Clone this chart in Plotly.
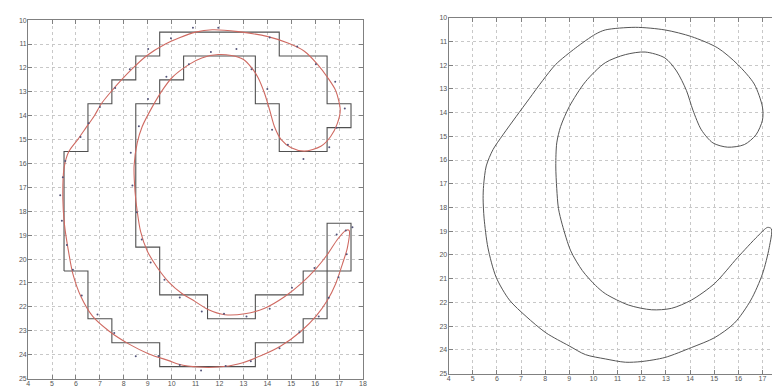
import plotly.graph_objects as go

# ---- pixel staircase outline (C shape) ----
grid_x = [5.5, 5.5, 6.5, 6.5, 7.5, 7.5, 8.5, 8.5, 9.5, 9.5, 14.5, 14.5, 16.5, 16.5, 17.5, 17.5,
          16.5, 16.5, 14.5, 14.5, 13.5, 13.5, 10.5, 10.5, 9.5, 9.5, 8.5, 8.5, 9.5, 9.5, 11.5, 11.5,
          13.5, 13.5, 15.5, 15.5, 17.5, 17.5, 16.5, 16.5, 15.5, 15.5, 13.5, 13.5, 9.5, 9.5, 7.5, 7.5,
          6.5, 6.5, 5.5]
grid_y = [20.5, 15.5, 15.5, 13.5, 13.5, 12.5, 12.5, 11.5, 11.5, 10.5, 10.5, 11.5, 11.5, 13.5, 13.5, 14.5,
          14.5, 15.5, 15.5, 13.5, 13.5, 11.5, 11.5, 12.5, 12.5, 13.5, 13.5, 19.5, 19.5, 21.5, 21.5, 22.5,
          22.5, 21.5, 21.5, 20.5, 20.5, 18.5, 18.5, 22.5, 22.5, 23.5, 23.5, 24.5, 24.5, 23.5, 23.5, 22.5,
          22.5, 20.5, 20.5]

# ---- fitted (red) contour, left panel ----
fit_x = [11.7, 12.78, 14.03, 14.86, 15.55, 16.1, 16.52, 16.86, 17.05, 16.93, 16.65, 16.24, 15.55, 15.0,
         14.58, 14.3, 14.1, 13.89, 13.61, 13.34, 12.99, 12.5, 11.95, 11.26, 10.75, 10.02, 9.6, 9.19, 8.77,
         8.56, 8.43, 8.47, 8.56, 8.7, 8.98, 9.39, 9.88, 10.43, 10.99, 11.5, 12.23, 13.06, 13.89, 14.72,
         15.41, 16.03, 16.52, 16.93, 17.28, 17.42, 17.35, 17.14, 16.86, 16.52, 16.03, 15.41, 14.58, 13.75,
         12.78, 11.95, 11.12, 10.3, 9.88, 9.05, 8.22, 7.39, 6.7, 6.21, 5.87, 5.66, 5.52, 5.45, 5.5, 5.7,
         6.07, 6.42, 6.77, 7.06, 7.46, 7.9, 8.39, 8.94, 9.74, 10.3, 11.0, 11.7]
fit_y = [10.40, 10.48, 10.69, 10.96, 11.30, 11.85, 12.4, 12.95, 13.77, 14.32, 14.87, 15.28, 15.48, 15.34,
         15.0, 14.46, 13.77, 13.08, 12.4, 11.99, 11.64, 11.48, 11.44, 11.58, 11.84, 12.4, 12.95, 13.63, 14.45,
         15.14, 16.1, 17.19, 18.0, 18.84, 19.66, 20.34, 20.96, 21.44, 21.78, 22.1, 22.33, 22.29, 22.06, 21.58,
         21.03, 20.41, 19.8, 19.18, 18.8, 18.8, 19.52, 20.21, 21.03, 21.71, 22.4, 23.02, 23.63, 24.04,
         24.39, 24.52, 24.52, 24.4, 24.25, 23.97, 23.56, 23.02, 22.4, 21.58, 20.62, 19.52, 18.57, 17.47, 16.2, 15.5,
         15.0, 14.5, 14.0, 13.5, 13.0, 12.5, 12.0, 11.5, 11.0, 10.75, 10.5, 10.40]

# ---- sample points, left panel ----
pts_x = [10.89, 9.97, 9.02, 8.25, 7.64, 7.0, 6.53, 6.19, 5.55, 5.45, 5.34, 10.72, 9.78, 9.01, 8.63, 8.29,
         8.36, 11.95, 14.1, 15.25, 16.03, 16.84, 17.24, 16.9, 16.59, 15.51, 14.86, 14.2, 14.0, 13.34, 12.71,
         11.64, 5.41, 5.62, 5.87, 6.24, 6.9, 7.6, 8.5, 9.45, 10.34, 11.23, 8.54, 8.75, 9.12, 9.7, 10.34,
         11.26, 12.19, 13.13, 14.1, 15.03, 15.97, 16.9, 17.28, 17.56, 17.32, 16.98, 16.57, 16.15, 15.34,
         14.51, 13.31, 12.26]
pts_y = [10.32, 10.76, 11.21, 12.06, 12.84, 13.63, 14.32, 14.89, 15.9, 16.58, 17.33, 11.85, 12.37, 13.3,
         14.44, 15.55, 16.92, 10.32, 10.73, 11.1, 11.85, 12.58, 13.7, 14.5, 15.32, 15.81, 15.21, 14.59, 12.88,
         12.06, 11.21, 11.33, 18.4, 19.41, 20.45, 21.52, 22.32, 23.09, 24.07, 24.06, 24.43, 24.66, 18.04,
         19.18, 20.14, 20.87, 21.61, 22.19, 22.29, 22.4, 22.08, 21.2, 20.37, 18.97, 18.8, 18.67, 19.8, 20.76,
         21.62, 22.4, 23.06, 23.73, 24.28, 24.48]

# ---- smoothed contour, right panel ----
smooth_x = [11.73, 12.96, 14.06, 15.15, 15.97, 16.66, 17.0, 17.0, 16.73, 16.25, 15.56, 14.95, 14.47, 14.12,
            13.85, 13.44, 12.96, 12.14, 11.32, 10.49, 9.67, 9.0, 8.64, 8.48, 8.44, 8.48, 8.55, 8.71, 9.06,
            9.54, 10.08, 10.49, 11.45, 12.41, 13.23, 14.06, 15.01, 15.97, 16.8, 17.21, 17.37, 17.28, 17.0,
            16.52, 15.84, 15.01, 14.06, 12.96, 12.0, 11.32, 10.49, 9.67, 8.99, 8.03, 7.21, 6.52, 5.97, 5.63,
            5.47, 5.43, 5.45, 5.56, 5.84, 6.25, 6.79, 7.34, 7.89, 8.44, 9.26, 10.08, 10.49, 11.73]
smooth_y = [10.41, 10.52, 10.8, 11.28, 11.97, 12.8, 13.77, 14.32, 14.94, 15.35, 15.46, 15.28, 14.73, 13.9,
            13.07, 12.25, 11.7, 11.45, 11.56, 11.9, 12.7, 13.75, 14.59, 15.28, 16.25, 17.21, 18.04, 18.73,
            19.83, 20.66, 21.28, 21.63, 22.11, 22.31, 22.25, 21.9, 21.21, 20.11, 19.21, 18.84, 18.9, 19.69,
            20.8, 21.9, 22.87, 23.49, 23.9, 24.32, 24.49, 24.52, 24.38, 24.2, 23.83, 23.28, 22.59, 21.9,
            20.94, 19.7, 18.45, 17.63, 17.07, 16.25, 15.56, 14.94, 14.18, 13.42, 12.66, 11.97, 11.28, 10.7,
            10.52, 10.41]

x_ticks = list(range(4, 19))
y_ticks = list(range(10, 26))

W, H = 780, 386
fig = go.Figure()

fig.add_trace(go.Scatter(x=grid_x, y=grid_y, mode="lines", line=dict(color="#505050", width=1.1),
                         xaxis="x", yaxis="y", hoverinfo="skip"))
fig.add_trace(go.Scatter(x=fit_x, y=fit_y, mode="lines", line=dict(color="#cf6a62", width=1.1,
                         shape="spline", smoothing=0.8), xaxis="x", yaxis="y"))
fig.add_trace(go.Scatter(x=pts_x, y=pts_y, mode="markers", marker=dict(color="#55557a", size=2),
                         xaxis="x", yaxis="y"))
fig.add_trace(go.Scatter(x=smooth_x, y=smooth_y, mode="lines", line=dict(color="#555555", width=1.0,
                         shape="spline", smoothing=0.8), xaxis="x2", yaxis="y2"))

tickfont = dict(family="Liberation Sans, Arial, sans-serif", size=7, color="#555555")
common = dict(showgrid=True, gridcolor="#c8c8c8", griddash="dot", gridwidth=1, zeroline=False,
              showline=True, linecolor="#808080", linewidth=1, ticks="inside", ticklen=4,
              tickcolor="#808080", tickfont=tickfont)

left_px = (18.3, 355.7)
right_px = (442.0, 780.0)
fig.update_layout(
    width=W, height=H, margin=dict(l=0, r=0, t=0, b=0),
    paper_bgcolor="white", plot_bgcolor="white", showlegend=False,
    xaxis=dict(domain=[left_px[0] / W, left_px[1] / W], range=[4, 18], tickvals=x_ticks,
               anchor="y", mirror="ticks", ticklabelstandoff=-2, **common),
    yaxis=dict(domain=[1 - 373.3 / H, 1 - 8.3 / H], range=[25, 10], tickvals=y_ticks,
               anchor="x", mirror="ticks", ticklabelstandoff=-1, **common),
    xaxis2=dict(domain=[right_px[0] / W, 1.0], range=[4, 4 + (780 - 442.0) / 24.33], tickvals=x_ticks,
                anchor="y2", mirror="ticks", ticklabelstandoff=-2, **common),
    yaxis2=dict(domain=[1 - 368.3 / H, 1 - 5.7 / H], range=[25, 10], tickvals=y_ticks,
                anchor="x2", mirror=False, ticklabelstandoff=-1, **common),
)

fig.write_html("out.html")
